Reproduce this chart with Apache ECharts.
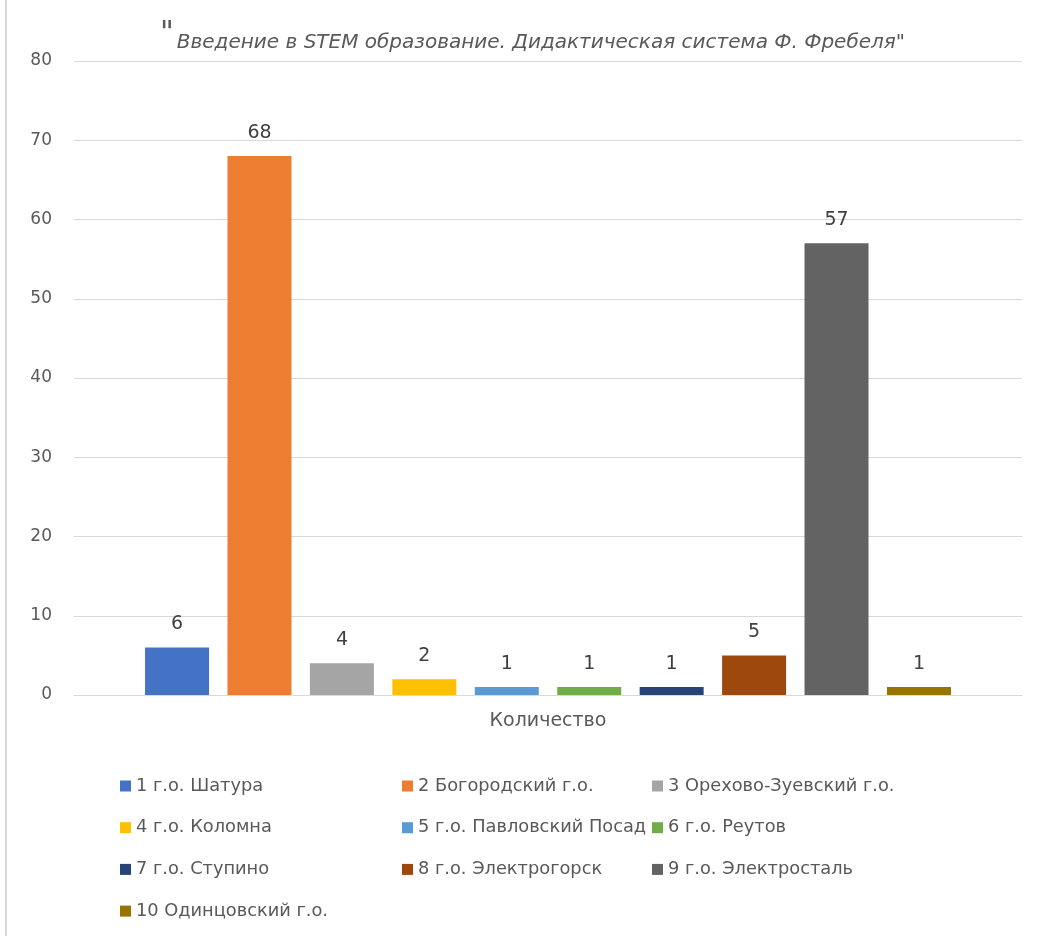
<!DOCTYPE html>
<html>
<head>
<meta charset="utf-8">
<script src="https://cdn.jsdelivr.net/npm/echarts@6/dist/echarts.min.js"></script>
<style>
html,body{margin:0;padding:0;background:#fff;}
#wrap{position:relative;width:1044px;height:936px;}
#chart{position:absolute;left:0;top:0;width:1044px;height:936px;}
#edge{position:absolute;left:5px;top:0;width:2px;height:936px;background:#d9d9d9;}
</style>
</head>
<body>
<div id="wrap"><div id="chart"></div><div id="edge"></div></div>
<script>
const titleQuote = '"';
const titleText = 'Введение в STEM образование. Дидактическая система Ф. Фребеля"';
const categories = ['Количество'];
const seriesNames = ['1 г.о. Шатура','2 Богородский г.о.','3 Орехово-Зуевский г.о.','4 г.о. Коломна','5 г.о. Павловский Посад','6 г.о. Реутов','7 г.о. Ступино','8 г.о. Электрогорск','9 г.о. Электросталь','10 Одинцовский г.о.'];
const seriesValues = [6, 68, 4, 2, 1, 1, 1, 5, 57, 1];
const colors = ['#4472C4','#ED7D31','#A5A5A5','#FFC000','#5B9BD5','#70AD47','#264478','#9E480E','#636363','#997300'];
const yTicks = {min: 0, max: 80, interval: 10};

const chart = echarts.init(document.getElementById('chart'), null, {renderer: 'canvas'});
const textColor = '#595959';
const legendCols = [[0,3,6,9],[1,4,7],[2,5,8]];
const legendLefts = [120, 402, 652];

const legendBase = {
  orient: 'vertical', top: 776, padding: 0, itemWidth: 11, itemHeight: 11, itemGap: 21.7,
  icon: 'rect', selectedMode: false,
  textStyle: {color: textColor, fontFamily: 'DejaVu Sans', fontSize: 17.8, lineHeight: 20}
};

chart.setOption({
  animation: false,
  color: colors,
  title: {
    text: '{q|' + titleQuote + '}{t|' + titleText + '}',
    left: 160, top: 19, padding: 0,
    textStyle: {
      fontWeight: 'normal',
      rich: {
        q: {fontSize: 30, fontWeight: 'normal', fontFamily: 'DejaVu Sans', color: textColor, verticalAlign: 'top', lineHeight: 34, padding: [0, 3, 0, 0]},
        t: {fontSize: 20, fontWeight: 'normal', fontStyle: 'italic', fontFamily: 'DejaVu Sans', color: textColor, lineHeight: 34, verticalAlign: 'bottom'}
      }
    }
  },
  legend: legendCols.map((col, i) => Object.assign({}, legendBase, {
    left: legendLefts[i],
    data: col.map(k => seriesNames[k])
  })),
  grid: {left: 74, right: 22, top: 61, bottom: 241, containLabel: false},
  xAxis: {
    type: 'category', data: categories,
    axisLine: {lineStyle: {color: '#d9d9d9', width: 1}},
    axisTick: {show: false},
    axisLabel: {color: textColor, fontFamily: 'DejaVu Sans', fontSize: 19, margin: 17}
  },
  yAxis: {
    type: 'value', min: yTicks.min, max: yTicks.max, interval: yTicks.interval,
    axisLine: {show: false}, axisTick: {show: false},
    splitLine: {lineStyle: {color: '#d9d9d9', width: 1}},
    axisLabel: {color: textColor, fontFamily: 'DejaVu Sans', fontSize: 17, margin: 22}
  },
  series: seriesNames.map((name, i) => ({
    name: name, type: 'bar',
    data: [seriesValues[i]],
    barWidth: 64, barGap: '28.8%',
    label: {show: true, position: 'top', distance: 14, color: '#404040', fontFamily: 'DejaVu Sans', fontSize: 19}
  }))
});
</script>
</body>
</html>
